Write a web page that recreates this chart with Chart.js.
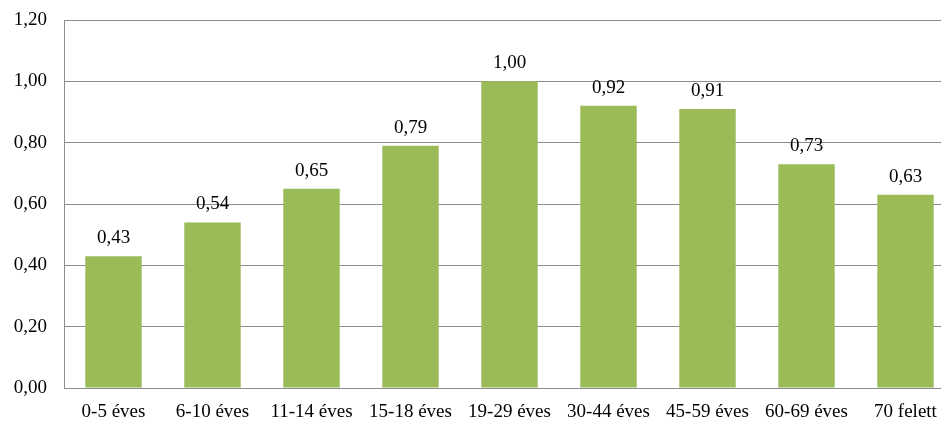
<!DOCTYPE html>
<html>
<head>
<meta charset="utf-8">
<script src="https://cdn.jsdelivr.net/npm/chart.js@4/dist/chart.umd.min.js"></script>
<style>
  html, body { margin: 0; padding: 0; background: #fff; overflow: hidden; }
  #wrap { width: 941px; height: 421px; overflow: hidden; }
</style>
</head>
<body>
<div id="wrap"><canvas id="chart" width="955" height="421"></canvas></div>
<script>
const categories = ["0-5 éves", "6-10 éves", "11-14 éves", "15-18 éves", "19-29 éves", "30-44 éves", "45-59 éves", "60-69 éves", "70 felett"];
const values = [0.43, 0.54, 0.65, 0.79, 1.00, 0.92, 0.91, 0.73, 0.63];
const yTicks = [0, 0.2, 0.4, 0.6, 0.8, 1.0, 1.2];

const fmt = v => v.toFixed(2).replace(".", ",");
const FONT = "'Liberation Serif', 'Times New Roman', serif";
const SIZE = 19;

// value labels above every bar
const barLabels = {
  id: "barLabels",
  afterDatasetsDraw(chart) {
    const ctx = chart.ctx;
    const meta = chart.getDatasetMeta(0);
    ctx.save();
    ctx.font = SIZE + "px " + FONT;
    ctx.fillStyle = "#000";
    ctx.textAlign = "center";
    ctx.textBaseline = "alphabetic";
    meta.data.forEach((bar, i) => {
      ctx.fillText(fmt(values[i]), bar.x, bar.y - 13);
    });
    ctx.restore();
  }
};

new Chart(document.getElementById("chart"), {
  type: "bar",
  data: {
    labels: categories,
    datasets: [{
      data: values,
      backgroundColor: "#9BBB59",
      categoryPercentage: 1,
      barPercentage: 0.57
    }]
  },
  options: {
    responsive: false,
    animation: false,
    layout: { padding: { top: 20, right: 0, left: 0, bottom: 0 } },
    plugins: { legend: { display: false }, tooltip: { enabled: false } },
    scales: {
      x: {
        afterFit(scale) { scale.height = 33; scale.paddingLeft = 0; scale.paddingRight = 0; },
        grid: { display: false, drawTicks: false },
        border: { color: "#8c8c8c", width: 1 },
        ticks: { color: "#000", font: { family: FONT, size: SIZE }, padding: 13, maxRotation: 0, autoSkip: false }
      },
      y: {
        min: 0,
        max: 1.2,
        afterFit(scale) { scale.width = 64; scale.paddingTop = 0; scale.paddingBottom = 0; },
        afterBuildTicks(scale) { scale.ticks = yTicks.map(v => ({ value: v })); },
        grid: { color: "#8c8c8c", drawTicks: false },
        border: { color: "#8c8c8c", width: 1 },
        ticks: { color: "#000", font: { family: FONT, size: SIZE }, padding: 17, callback: v => fmt(v) }
      }
    }
  },
  plugins: [barLabels]
});
</script>
</body>
</html>
